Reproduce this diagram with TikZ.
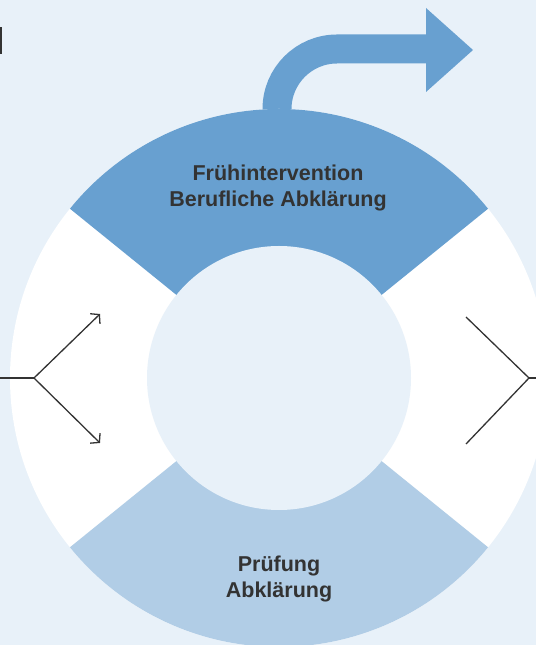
\documentclass[tikz,border=0pt]{standalone}
\usepackage{fontspec}
\setmainfont{Liberation Sans}
\usepackage{tikz}
\usetikzlibrary{arrows.meta}

\definecolor{bgblue}{HTML}{E8F1F9}
\definecolor{darkseg}{HTML}{68A0D0}
\definecolor{lightseg}{HTML}{B1CDE6}
\definecolor{inkgray}{HTML}{333333}

\tikzset{
    segtext/.style={align=center, text=inkgray, font=\bfseries\fontsize{21.5}{26.5}\selectfont},
    wire/.style={draw=inkgray, line width=1.3pt},
    fork/.style={wire, -{Straight Barb[length=6pt,width=14pt,line width=1.3pt]}}
}

\begin{document}
\begin{tikzpicture}[x=1pt, y=1pt]
    	% Background and frame:
    	\useasboundingbox (0, 0) rectangle (536, 645);
    	\clip (0, 0) rectangle (536, 645);
    	\fill[bgblue] (0, 0) rectangle (536, 645);
    	\fill[inkgray] (0, 591) rectangle (1.7, 618);
    	% Exit arrow:
    	\draw[darkseg, line width=29pt] (277, 480) -- (277, 536) arc (180:90:60) -- (427, 596);
    	\fill[darkseg] (426, 553) -- (473, 595) -- (426, 637) -- cycle;
    	% Ring:
    	\node (C) at (279, 267) {};
    	\fill[white] (C.center) circle (269);
    	\fill[darkseg] (C.center) -- ++(39:269) arc (39:141:269) -- cycle;
    	\fill[lightseg] (C.center) -- ++(-39:269) arc (-39:-141:269) -- cycle;
    	\fill[bgblue] (C.center) circle (132);
    	% Labels:
    	\node[segtext] (top) at (278, 457) {Frühintervention\\Berufliche Abklärung};
    	\node[segtext] (bottom) at (279, 66) {Prüfung\\Abklärung};
    	% Left fork:
    	\coordinate (Lin) at (0, 267);
    	\coordinate (Lfork) at (34, 267);
    	\coordinate (Lup) at (100, 331);
    	\coordinate (Ldown) at (100, 202);
    	\draw[wire] (Lin) -- (Lfork);
    	\draw[fork] (Lfork) -- (Lup);
    	\draw[fork] (Lfork) -- (Ldown);
    	% Right join:
    	\coordinate (Rup) at (466, 328);
    	\coordinate (Rdown) at (466, 201);
    	\coordinate (Rjoin) at (529, 267);
    	\coordinate (Rout) at (536, 267);
    	\draw[wire] (Rup) -- (Rjoin) -- (Rdown);
    	\draw[wire] (Rjoin) -- (Rout);
    \end{tikzpicture}
\end{document}
